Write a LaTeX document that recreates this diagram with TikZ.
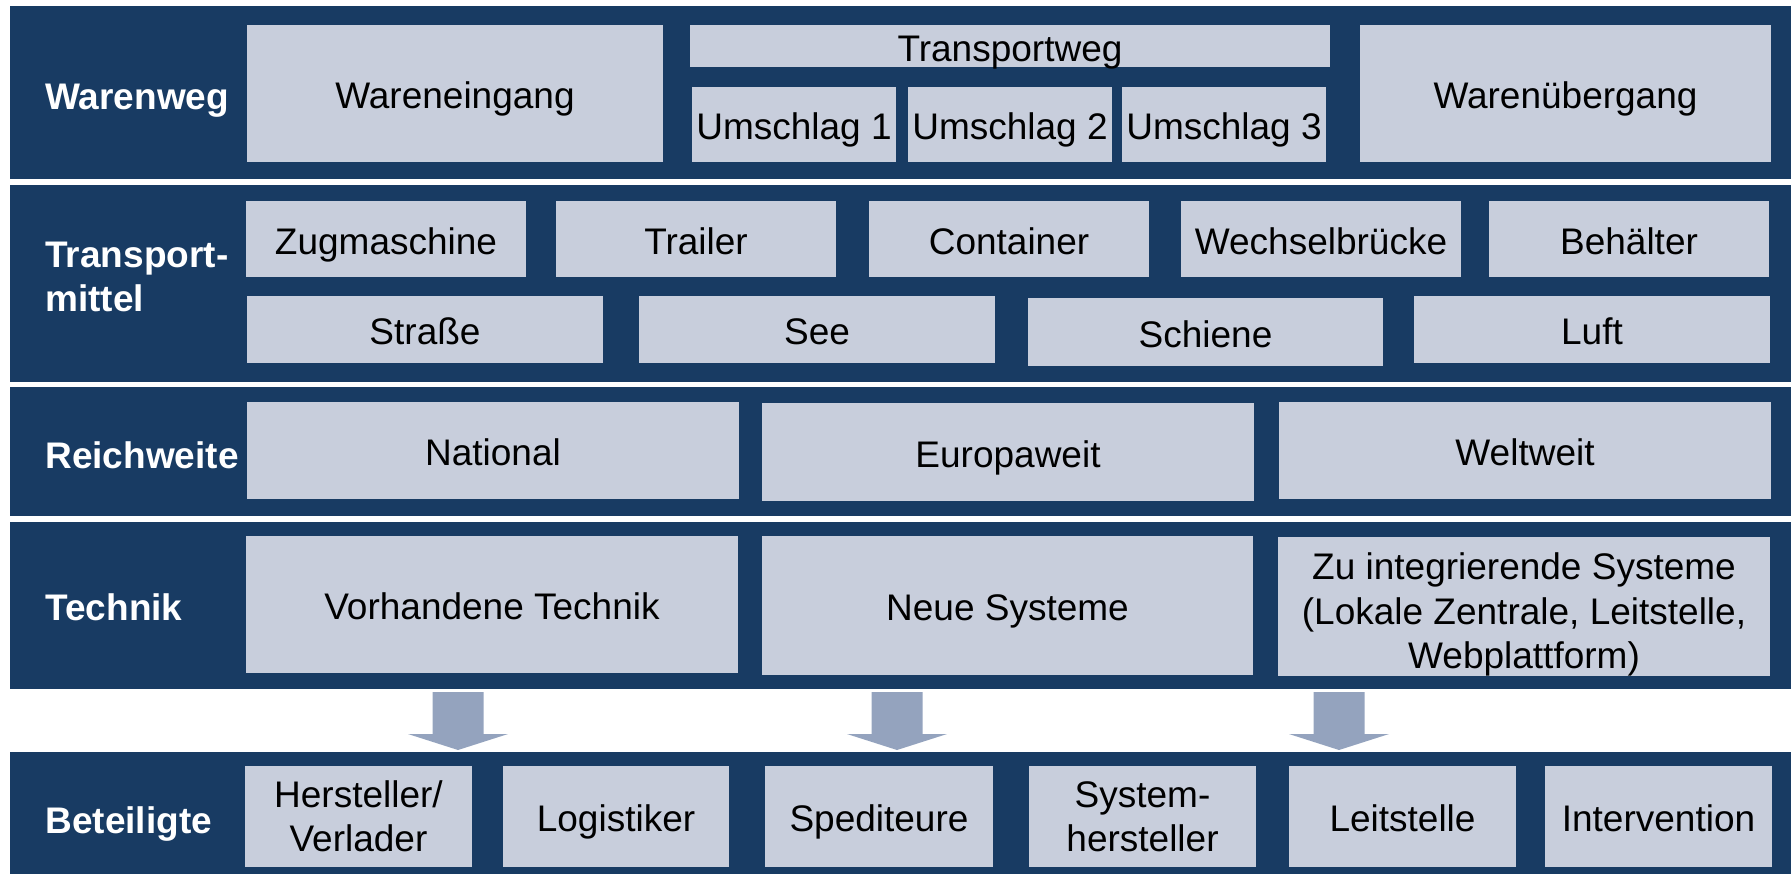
\documentclass[tikz,border=0pt]{standalone}
\usepackage{fontspec}
\setmainfont{Liberation Sans}
\usepackage{tikz}
\definecolor{bandblue}{RGB}{24,59,99}
\definecolor{cellgrey}{RGB}{200,206,220}
\definecolor{arrowgrey}{RGB}{148,163,190}
% box from (x1,y1) to (x2,y2), pixel units
\newcommand\cellbox[7][cell]{\node[#1,minimum width={(#5-#3)*0.5pt},minimum height={(#6-#4)*0.5pt}]
  (#2) at ({(#3+#5)/2},{(#4+#6)/2}) {#7};}

\begin{document}
\begin{tikzpicture}[x=0.5pt,y=-0.5pt,
  band/.style={fill=bandblue,inner sep=0pt,outer sep=0pt},
  cell/.style={fill=cellgrey,inner sep=0pt,outer sep=0pt,align=center,
    text height=15pt,text depth=0pt,font=\fontsize{18.5}{22.2}\selectfont},
  multicell/.style={cell,text height=,text depth=},
  rowlabel/.style={anchor=west,text=white,align=left,inner sep=0pt,
    text height=13.3pt,text depth=0pt,font=\fontsize{18.5}{22.2}\selectfont\bfseries}]
  % Constants
  \pgfmathsetmacro\lx{45}
  % Boundary
  \path[use as bounding box] (0,0) rectangle (1791,875);
  % Bands
  \cellbox[band]{bwaren}{10}{6}{1791}{179}{}
  \cellbox[band]{bmittel}{10}{185}{1791}{382}{}
  \cellbox[band]{breich}{10}{387}{1791}{516}{}
  \cellbox[band]{btechnik}{10}{522}{1791}{689}{}
  \cellbox[band]{bbeteil}{10}{752}{1791}{874}{}
  % Row labels
  \node[rowlabel] (lwaren) at (\lx,96.5) {Warenweg};
  \node[rowlabel,text height=,text depth=] (lmittel) at (\lx,277) {Transport-\\mittel};
  \node[rowlabel] (lreich) at (\lx,455) {Reichweite};
  \node[rowlabel] (ltechnik) at (\lx,607) {Technik};
  \node[rowlabel] (lbeteil) at (\lx,820) {Beteiligte};
  % Warenweg
  \cellbox{eingang}{247}{25}{663}{162}{Wareneingang}
  \cellbox{tweg}{690}{25}{1330}{67}{Transportweg}
  \cellbox{umschlagA}{692}{87}{896}{162}{Umschlag 1}
  \cellbox{umschlagB}{908}{87}{1112}{162}{Umschlag 2}
  \cellbox{umschlagC}{1122}{87}{1326}{162}{Umschlag 3}
  \cellbox{uebergang}{1360}{25}{1771}{162}{Warenübergang}
  % Transportmittel
  \cellbox{zug}{246}{201}{526}{277}{Zugmaschine}
  \cellbox{trailer}{556}{201}{836}{277}{Trailer}
  \cellbox{container}{869}{201}{1149}{277}{Container}
  \cellbox{wechsel}{1181}{201}{1461}{277}{Wechselbrücke}
  \cellbox{behaelter}{1489}{201}{1769}{277}{Behälter}
  \cellbox{strasse}{247}{296}{603}{363}{Straße}
  \cellbox{see}{639}{296}{995}{363}{See}
  \cellbox{schiene}{1028}{298}{1383}{366}{Schiene}
  \cellbox{luft}{1414}{296}{1770}{363}{Luft}
  % Reichweite
  \cellbox{national}{247}{402}{739}{499}{National}
  \cellbox{europa}{762}{403}{1254}{501}{Europaweit}
  \cellbox{welt}{1279}{402}{1771}{499}{Weltweit}
  % Technik
  \cellbox{vorhanden}{246}{536}{738}{673}{Vorhandene Technik}
  \cellbox{neu}{762}{536}{1253}{675}{Neue Systeme}
  \cellbox[multicell,text height=66pt]{integr}{1278}{537}{1770}{676}{Zu integrierende Systeme\\(Lokale Zentrale, Leitstelle,\\Webplattform)}
  % Arrows
  \foreach \ax in {458,897,1339}
    \fill[arrowgrey] (\ax-25.5,692) -- (\ax+25.5,692) -- (\ax+25.5,734) -- (\ax+50,734)
      -- (\ax,750) -- (\ax-50,734) -- (\ax-25.5,734) -- cycle;
  % Beteiligte
  \cellbox[multicell]{hersteller}{245}{766}{472}{867}{Hersteller/\\Verlader}
  \cellbox{logistiker}{503}{766}{729}{867}{Logistiker}
  \cellbox{spedi}{765}{766}{993}{867}{Spediteure}
  \cellbox[multicell]{syshersteller}{1029}{766}{1256}{867}{System-\\hersteller}
  \cellbox{leitstelle}{1289}{766}{1516}{867}{Leitstelle}
  \cellbox{intervention}{1545}{766}{1772}{867}{Intervention}
\end{tikzpicture}
\end{document}
